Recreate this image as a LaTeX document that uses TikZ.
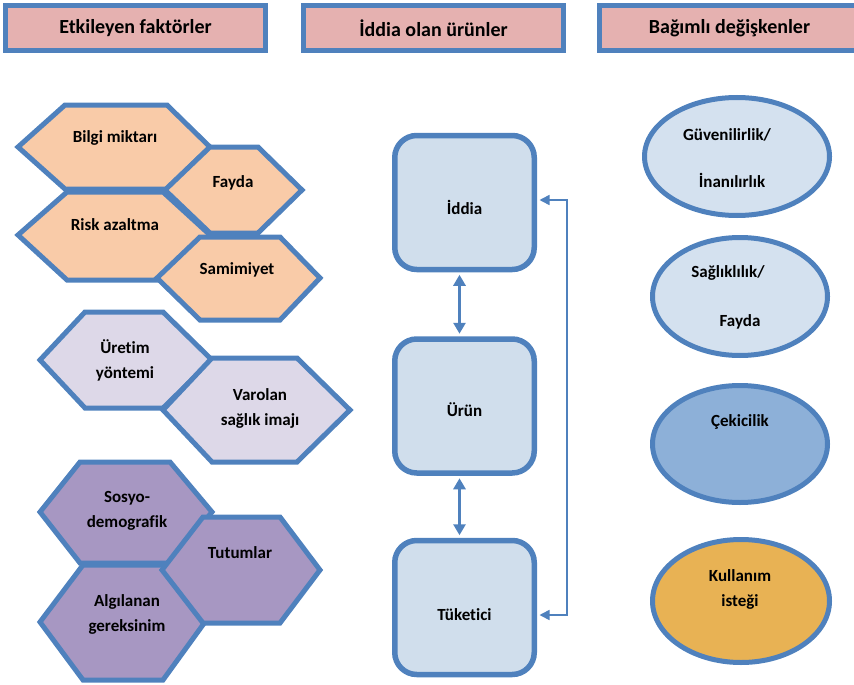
\documentclass[tikz,border=0pt]{standalone}
\usepackage{fontspec}
\setmainfont{Carlito}[RawFeature={-liga;-clig}]
\usetikzlibrary{arrows.meta,shapes.geometric}
\definecolor{bordblue}{RGB}{79,129,189}
\definecolor{hdrfill}{RGB}{229,177,176}
\definecolor{orangefill}{RGB}{249,203,168}
\definecolor{lilacfill}{RGB}{221,216,232}
\definecolor{purplefill}{RGB}{167,151,194}
\definecolor{boxfill}{RGB}{208,222,236}
\definecolor{ellfill}{RGB}{212,225,239}
\definecolor{ellmid}{RGB}{141,176,216}
\definecolor{ellorange}{RGB}{232,178,84}
\begin{document}
\begin{tikzpicture}[x=1pt,y=-1pt,
  hdr/.style={draw=bordblue,line width=5pt,fill=hdrfill,minimum width=260pt,minimum height=45pt,inner sep=0pt,font=\fontsize{20}{24}\selectfont\bfseries},
  hexbase/.style={draw=bordblue,line width=5pt,line join=miter},
  hexo/.style={hexbase,fill=orangefill},
  hexl/.style={hexbase,fill=lilacfill},
  hexp/.style={hexbase,fill=purplefill},
  txt/.style={font=\fontsize{17}{25}\selectfont\bfseries,align=center,inner sep=0pt},
  bx/.style={draw=bordblue,line width=5.5pt,fill=boxfill,rounded corners=22pt,minimum width=139.5pt,minimum height=134pt,inner sep=0pt,font=\fontsize{17}{25}\selectfont\bfseries},
  ell/.style={ellipse,draw=bordblue,line width=5pt,inner sep=0pt},
  dbl/.style={draw=bordblue,line width=2.8pt,{Triangle[length=11pt,width=12pt]}-{Triangle[length=11pt,width=12pt]},shorten <=2.5pt,shorten >=2.5pt},
  fb/.style={draw=bordblue,line width=1.6pt,{Triangle[length=10pt,width=10pt]}-{Triangle[length=10pt,width=10pt]},shorten <=2.5pt,shorten >=2.5pt}
]
\useasboundingbox (0,0) rectangle (854,685);
\clip (0,0) rectangle (854,685);

% headers
\node[hdr] (h1) at (135.5,28) {Etkileyen faktörler};
\node[hdr] (h2) at (433.5,28) {İddia olan ürünler};
\node[hdr] (h3) at (729.5,28) {Bağımlı değişkenler};

% orange hexagons
\filldraw[hexo] (18,147) -- (65,105) -- (167,105) -- (210,147) -- (167,189) -- (65,189) -- cycle;
\node[txt] (bilgi) at (115,138) {Bilgi miktarı};
\filldraw[hexo] (165,190) -- (210,147) -- (258,147) -- (302,190) -- (258,233) -- (210,233) -- cycle;
\node[txt] (fayda) at (233,183) {Fayda};
\filldraw[hexo] (18,235) -- (67,192) -- (163,192) -- (210,235) -- (163,280) -- (67,280) -- cycle;
\node[txt] (risk) at (115,225) {Risk azaltma};
\filldraw[hexo] (157,278) -- (200,237) -- (280,237) -- (320,278) -- (280,320) -- (200,320) -- cycle;
\node[txt] (samimiyet) at (237,270) {Samimiyet};

% lilac hexagons
\filldraw[hexl] (40,360) -- (85,312) -- (163,312) -- (212,360) -- (163,408) -- (85,408) -- cycle;
\node[txt] (uretim) at (125,360) {Üretim\\yöntemi};
\filldraw[hexl] (163,410) -- (212,358) -- (297,358) -- (350,410) -- (297,462) -- (212,462) -- cycle;
\node[txt] (varolan) at (260,408) {Varolan\\sağlık imajı};

% purple hexagons
\filldraw[hexp] (40,512) -- (80,462) -- (170,462) -- (212,512) -- (170,563) -- (80,563) -- cycle;
\node[txt] (sosyo) at (127,511) {Sosyo-\\demografik};
\filldraw[hexp] (40,622) -- (83,565) -- (163,565) -- (205,622) -- (163,680) -- (83,680) -- cycle;
\node[txt] (algilanan) at (127,614) {Algılanan\\gereksinim};
\filldraw[hexp] (162,570) -- (203,517) -- (280,517) -- (320,570) -- (280,623) -- (203,623) -- cycle;
\node[txt] (tutumlar) at (240,553) {Tutumlar};

% middle boxes
\node[bx] (iddia) at (464.5,202.5) {\raisebox{-5pt}[\height][\depth]{İddia}};
\node[bx] (urun) at (464.5,406) {\raisebox{-4pt}[\height][\depth]{Ürün}};
\node[bx] (tuketici) at (464.5,607.5) {\raisebox{-7pt}[\height][\depth]{Tüketici}};

\draw[dbl] ([xshift=-5pt]iddia.south) -- ([xshift=-5pt]urun.north);
\draw[dbl] ([xshift=-5pt]urun.south) -- ([xshift=-5pt]tuketici.north);
\draw[fb] ([yshift=2.5pt]iddia.east) -- ++(30,0) |- ([yshift=-7.5pt]tuketici.east);

% ellipses
\node[ell,fill=ellfill,minimum width=185pt,minimum height=118pt] (e1) at (737,156.5) {};
\node[txt] (e1a) at (727,135) {Güvenilirlik/};
\node[txt] (e1b) at (732,180) {İnanılırlık};
\node[ell,fill=ellfill,minimum width=175pt,minimum height=118pt] (e2) at (740,296.5) {};
\node[txt] (e2a) at (728,273) {Sağlıklılık/};
\node[txt] (e2b) at (740,322) {Fayda};
\node[ell,fill=ellmid,minimum width=175pt,minimum height=117pt] (e3) at (740,444) {};
\node[txt] (e3a) at (740,422) {Çekicilik};
\node[ell,fill=ellorange,minimum width=177pt,minimum height=123pt] (e4) at (741,601) {};
\node[txt] (e4a) at (740,589.5) {Kullanım\\isteği};
\end{tikzpicture}
\end{document}
